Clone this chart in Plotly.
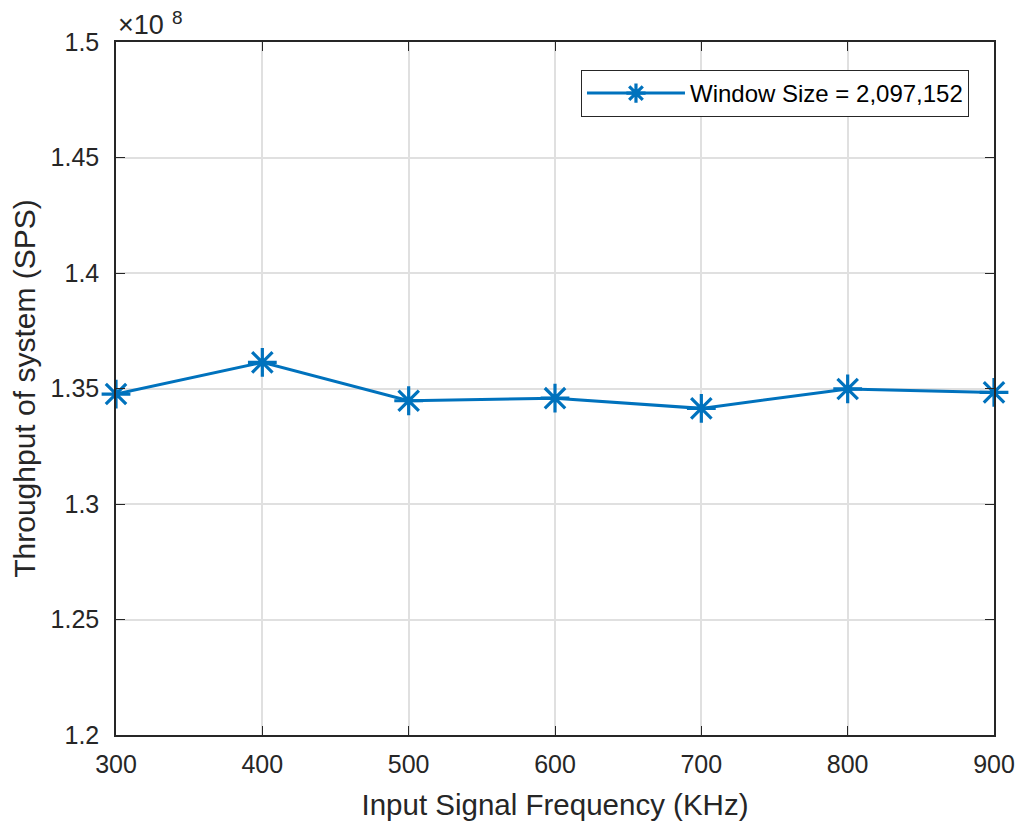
import plotly.graph_objects as go

# Input signal frequency (KHz) and measured system throughput (in units of 1e8 SPS)
frequency_khz = [300, 400, 500, 600, 700, 800, 900]
throughput_e8 = [1.3476, 1.3613, 1.3447, 1.3458, 1.3414, 1.3498, 1.3483]

x_ticks = [300, 400, 500, 600, 700, 800, 900]
y_ticks = [1.2, 1.25, 1.3, 1.35, 1.4, 1.45, 1.5]
y_tick_text = ["1.2", "1.25", "1.3", "1.35", "1.4", "1.45", "1.5"]

series_name = "Window Size = 2,097,152"
line_color = "#0072BD"
axis_color = "#262626"
grid_color = "#e0e0e0"
font_family = "Liberation Sans, Arial, sans-serif"

fig = go.Figure()
fig.add_trace(go.Scatter(
    x=frequency_khz,
    y=throughput_e8,
    mode="lines+markers",
    name=series_name,
    line=dict(color=line_color, width=3),
    marker=dict(symbol="asterisk-open", size=24, color=line_color,
                line=dict(color=line_color, width=3.2)),
    cliponaxis=False,
))

axis_common = dict(
    showline=True, linecolor=axis_color, linewidth=1.5, mirror="allticks",
    ticks="inside", ticklen=9, tickwidth=1, tickcolor=axis_color,
    showgrid=True, gridcolor=grid_color, gridwidth=1.5,
    zeroline=False, automargin=False,
    tickfont=dict(family=font_family, size=25, color=axis_color),
)

fig.update_layout(
    width=1021, height=826,
    margin=dict(l=116, r=27, t=42, b=91),
    paper_bgcolor="white", plot_bgcolor="white",
    font=dict(family=font_family, color=axis_color),
    xaxis=dict(
        range=[300, 900], tickvals=x_ticks, ticklabelstandoff=6,
        title=dict(text="Input Signal Frequency (KHz)", standoff=18,
                   font=dict(family=font_family, size=29.5, color=axis_color)),
        **axis_common,
    ),
    yaxis=dict(
        range=[1.2, 1.5], tickvals=y_ticks, ticktext=y_tick_text,
        ticklabelstandoff=10,
        title=dict(text="Throughput of system (SPS)", standoff=6,
                   font=dict(family=font_family, size=30, color=axis_color)),
        **axis_common,
    ),
    legend=dict(
        x=0.9715, y=0.9596, xanchor="right", yanchor="top",
        bgcolor="white", bordercolor=axis_color, borderwidth=1,
        font=dict(family=font_family, size=24, color="black"),
        itemwidth=98,
    ),
    showlegend=True,
)

# Exponent label for the y axis: base and superscript drawn separately
fig.add_annotation(
    xref="paper", yref="paper", x=0.0, y=1.0,
    xanchor="left", yanchor="bottom", yshift=0,
    text="\u00d710", showarrow=False,
    font=dict(family=font_family, size=27, color=axis_color),
)
fig.add_annotation(
    xref="paper", yref="paper", x=0.0, y=1.0,
    xanchor="left", yanchor="bottom", xshift=54, yshift=12,
    text="8", showarrow=False,
    font=dict(family=font_family, size=19, color=axis_color),
)

fig.write_html("out.html")
